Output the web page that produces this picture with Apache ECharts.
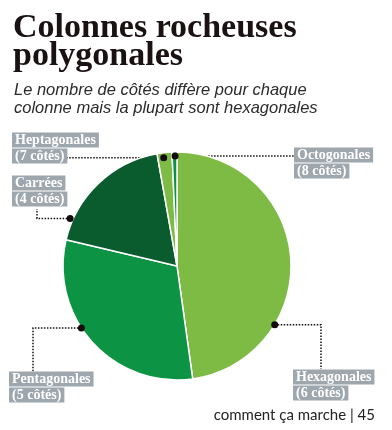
<!DOCTYPE html>
<html>
<head>
<meta charset="utf-8">
<script src="https://cdn.jsdelivr.net/npm/echarts@6/dist/echarts.min.js"></script>
<style>
  html, body { margin: 0; padding: 0; background: #fff; }
  #chart { width: 392px; height: 430px; }
</style>
</head>
<body>
<div id="chart"></div>
<script>
// données (parts en %)
const categories = ['Hexagonales', 'Pentagonales', 'Carrées', 'Heptagonales', 'Octogonales'];
const sides = ['6 côtés', '5 côtés', '4 côtés', '7 côtés', '8 côtés'];
const shares = [47.8, 30.9, 18.5, 2.1, 0.7];

const sliceColors = ['#7dbb45', '#0c9444', '#0a5c2e', '#7dbb45', '#0c9444'];
const center = [177, 266];
const radius = 114;

// position des étiquettes et des traits de rappel (angle horaire depuis midi)
const spots = [
  { x: 293, y: 369, angle: 121, r: 114, elbowX: 321, endY: 369 },
  { x: 9, y: 371, angle: 237, r: 114, elbowX: 33, endY: 371 },
  { x: 12, y: 175, angle: 294, r: 117, elbowX: 37, endY: 209 },
  { x: 12, y: 132, angle: 353, r: 109, elbowX: 64 },
  { x: 294, y: 147, angle: 359, r: 110, elbowX: 295 }
];

const polar = (angle, r) => {
  const a = angle * Math.PI / 180;
  return [center[0] + r * Math.sin(a), center[1] - r * Math.cos(a)];
};

const chart = echarts.init(document.getElementById('chart'));

const option = {
  animation: false,
  title: [
    {
      text: 'Colonnes rocheuses\npolygonales',
      left: 8,
      top: 9,
      textStyle: {
        fontFamily: 'Liberation Serif',
        fontWeight: 'bold',
        fontSize: 34,
        lineHeight: 28,
        color: '#1a1212'
      }
    },
    {
      text: 'Le nombre de côtés diffère pour chaque\ncolonne mais la plupart sont hexagonales',
      left: 9,
      top: 76,
      textStyle: {
        fontFamily: 'Liberation Sans',
        fontStyle: 'italic',
        fontWeight: 'normal',
        fontSize: 16.5,
        lineHeight: 18,
        color: '#2b2b2b'
      }
    }
  ],
  series: [
    {
      type: 'pie',
      center: center,
      radius: radius,
      startAngle: 90,
      clockwise: true,
      avoidLabelOverlap: false,
      silent: true,
      itemStyle: {
        borderColor: '#fff',
        borderWidth: 1.5
      },
      label: {
        show: true,
        position: 'outside',
        formatter: (p) => `{box|${p.name}}\n{box|(${sides[p.dataIndex]})}`,
        rich: {
          box: {
            fontFamily: 'Liberation Serif',
            fontWeight: 'bold',
            fontSize: 14,
            lineHeight: 16,
            color: '#fff',
            backgroundColor: '#9fa7ae',
            padding: [1, 3, 0, 3]
          }
        }
      },
      labelLine: {
        show: true,
        smooth: false,
        lineStyle: {
          color: '#111',
          width: 1.5,
          type: [1.5, 1.5]
        }
      },
      labelLayout: (params) => {
        const s = spots[params.dataIndex];
        const p = polar(s.angle, s.r);
        const endY = s.endY !== undefined ? s.endY : p[1];
        return {
          x: s.x,
          y: s.y,
          align: 'left',
          verticalAlign: 'top',
          labelLinePoints: [p, [s.elbowX, p[1]], [s.elbowX, endY]]
        };
      },
      data: categories.map((name, i) => ({
        name: name,
        value: shares[i],
        itemStyle: { color: sliceColors[i] }
      }))
    }
  ],
  graphic: [
    ...spots.map((s) => {
      const p = polar(s.angle, s.r);
      return {
        type: 'circle',
        z: 100,
        shape: { cx: p[0], cy: p[1], r: 3.5 },
        style: { fill: '#140c0c' }
      };
    }),
    {
      type: 'text',
      right: 17,
      top: 408,
      style: {
        text: 'comment ça marche | 45',
        fontFamily: 'Lato',
        fontSize: 15,
        fill: '#222'
      }
    }
  ]
};

chart.setOption(option);
</script>
</body>
</html>
